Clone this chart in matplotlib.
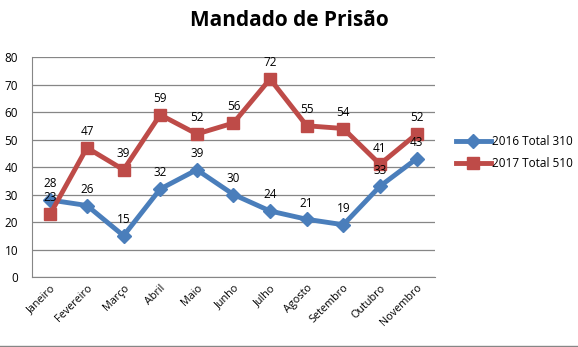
import matplotlib.pyplot as plt

months = ["Janeiro", "Fevereiro", "Março", "Abril", "Maio", "Junho",
          "Julho", "Agosto", "Setembro", "Outubro", "Novembro"]
values_2016 = [28, 26, 15, 32, 39, 30, 24, 21, 19, 33, 43]
values_2017 = [23, 47, 39, 59, 52, 56, 72, 55, 54, 41, 52]
label_2016 = "2016 Total 310"
label_2017 = "2017 Total 510"

plt.rcParams["font.family"] = ["Open Sans", "DejaVu Sans"]

fig = plt.figure(figsize=(5.78, 3.47), dpi=100)
ax = fig.add_axes([0.0554, 0.2017, 0.697, 0.634])

x = list(range(len(months)))
ax.plot(x, values_2016, color="#4A7EBB", linewidth=3.5, marker="D",
        markersize=7, label=label_2016, zorder=3)
ax.plot(x, values_2017, color="#BE4B48", linewidth=3.5, marker="s",
        markersize=9, label=label_2017, zorder=3)

# Data labels above each point
for series in (values_2016, values_2017):
    for i, v in zip(x, series):
        ax.annotate(str(v), (i, v), xytext=(0, 7), textcoords="offset points",
                    ha="center", va="bottom", fontsize=8.5, color="black",
                    zorder=4)

ax.set_xlim(-0.5, len(months) - 0.5)
ax.set_ylim(0, 80)
ax.set_yticks(range(0, 81, 10))
ax.set_xticks(x)
ax.set_xticklabels(months, rotation=45, ha="right", rotation_mode="anchor",
                   fontsize=7.8)
ax.tick_params(axis="y", labelsize=8.5, length=0, pad=10)
ax.tick_params(axis="x", length=0, pad=4)
ax.yaxis.grid(True, color="#868686", linewidth=0.9)
ax.set_axisbelow(True)
for side in ("top", "right"):
    ax.spines[side].set_visible(False)
for side in ("left", "bottom"):
    ax.spines[side].set_color("#868686")

fig.suptitle("Mandado de Prisão", x=0.5, y=0.97, fontsize=15,
             fontweight="bold")

fig.legend(loc="center left", bbox_to_anchor=(0.77, 0.56), frameon=False,
           fontsize=8.5, handlelength=3, handletextpad=0.1, labelspacing=0.8)

# Chart frame line at bottom
fig.add_artist(plt.Line2D([0, 1], [0.004, 0.004], color="#868686",
                          linewidth=1, transform=fig.transFigure))

fig.savefig("out.png", dpi=100)
